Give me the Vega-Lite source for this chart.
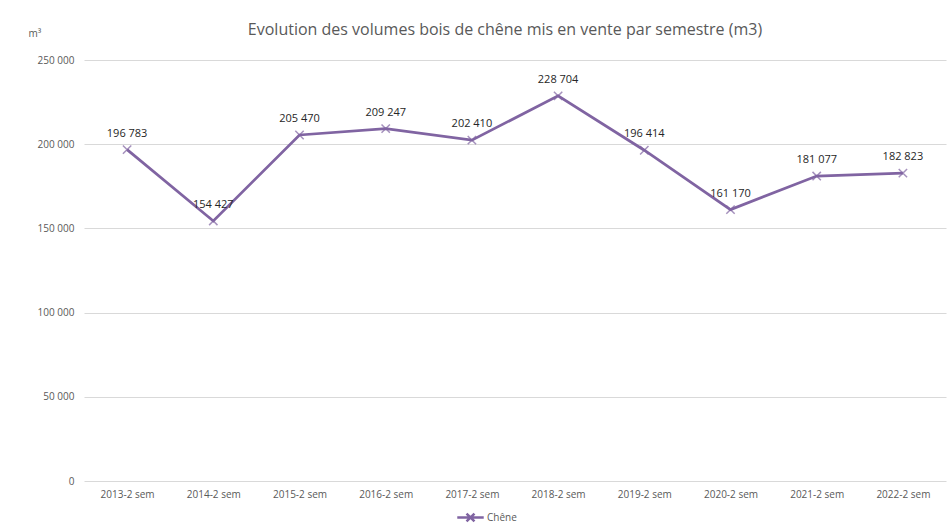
{
  "$schema": "https://vega.github.io/schema/vega-lite/v6.json",
  "width": 862,
  "height": 421,
  "autosize": {"type": "none"},
  "padding": {"left": 84, "top": 60, "right": 6, "bottom": 50},
  "background": "white",
  "config": {
    "view": {"stroke": null},
    "font": "Open Sans",
    "locale": {"number": {"decimal": ",", "thousands": " ", "grouping": [3], "currency": ["", " €"]}}
  },
  "title": {
    "text": "Evolution des volumes bois de chêne mis en vente par semestre (m3)",
    "fontSize": 16,
    "fontWeight": "normal",
    "color": "#595959",
    "font": "Open Sans",
    "anchor": "middle",
    "dx": -10,
    "offset": -10
  },
  "data": {
    "values": [
      {"periode": "2013-2 sem", "volume": 196783, "serie": "Chêne"},
      {"periode": "2014-2 sem", "volume": 154427, "serie": "Chêne"},
      {"periode": "2015-2 sem", "volume": 205470, "serie": "Chêne"},
      {"periode": "2016-2 sem", "volume": 209247, "serie": "Chêne"},
      {"periode": "2017-2 sem", "volume": 202410, "serie": "Chêne"},
      {"periode": "2018-2 sem", "volume": 228704, "serie": "Chêne"},
      {"periode": "2019-2 sem", "volume": 196414, "serie": "Chêne"},
      {"periode": "2020-2 sem", "volume": 161170, "serie": "Chêne"},
      {"periode": "2021-2 sem", "volume": 181077, "serie": "Chêne"},
      {"periode": "2022-2 sem", "volume": 182823, "serie": "Chêne"}
    ]
  },
  "encoding": {
    "x": {
      "field": "periode",
      "type": "ordinal",
      "scale": {"paddingInner": 0, "paddingOuter": 0.5},
      "axis": {
        "title": null,
        "labelAngle": 0,
        "labelFontSize": 10,
        "labelColor": "#595959",
        "labelPadding": 8,
        "ticks": false,
        "domain": false,
        "grid": false
      }
    },
    "y": {
      "field": "volume",
      "type": "quantitative",
      "scale": {"domain": [0, 250000], "nice": false},
      "axis": {
        "title": "m³",
        "titleAngle": 0,
        "titleFontSize": 10,
        "titleFontWeight": "normal",
        "titleColor": "#595959",
        "titleX": -56,
        "titleY": -22,
        "titleAlign": "left",
        "values": [0, 50000, 100000, 150000, 200000, 250000],
        "format": ",d",
        "labelFontSize": 10,
        "labelColor": "#595959",
        "labelPadding": 10,
        "ticks": false,
        "domain": false,
        "grid": true,
        "gridColor": "#d9d9d9",
        "gridWidth": 1
      }
    }
  },
  "layer": [
    {
      "mark": {"type": "line", "strokeWidth": 2.75},
      "encoding": {
        "color": {
          "field": "serie",
          "type": "nominal",
          "scale": {"range": ["#8064a2"]},
          "legend": {
            "title": null,
            "orient": "none",
            "legendX": 372,
            "legendY": 443,
            "symbolType": "M-1,0H1M-0.3,-0.3L0.3,0.3M-0.3,0.3L0.3,-0.3",
            "symbolSize": 700,
            "symbolStrokeWidth": 2.5,
            "symbolStrokeColor": "#8064a2",
            "labelFontSize": 10,
            "labelColor": "#595959",
            "labelOffset": 2
          }
        }
      }
    },
    {
      "mark": {
        "type": "point",
        "shape": "M-1,-1L1,1M-1,1L1,-1",
        "filled": false,
        "size": 70,
        "strokeWidth": 1.5,
        "color": "#8064a2"
      }
    },
    {
      "mark": {
        "type": "text",
        "baseline": "bottom",
        "dy": -11,
        "fontSize": 11,
        "color": "#262626"
      },
      "encoding": {
        "text": {"field": "volume", "type": "quantitative", "format": ",d"}
      }
    }
  ]
}
